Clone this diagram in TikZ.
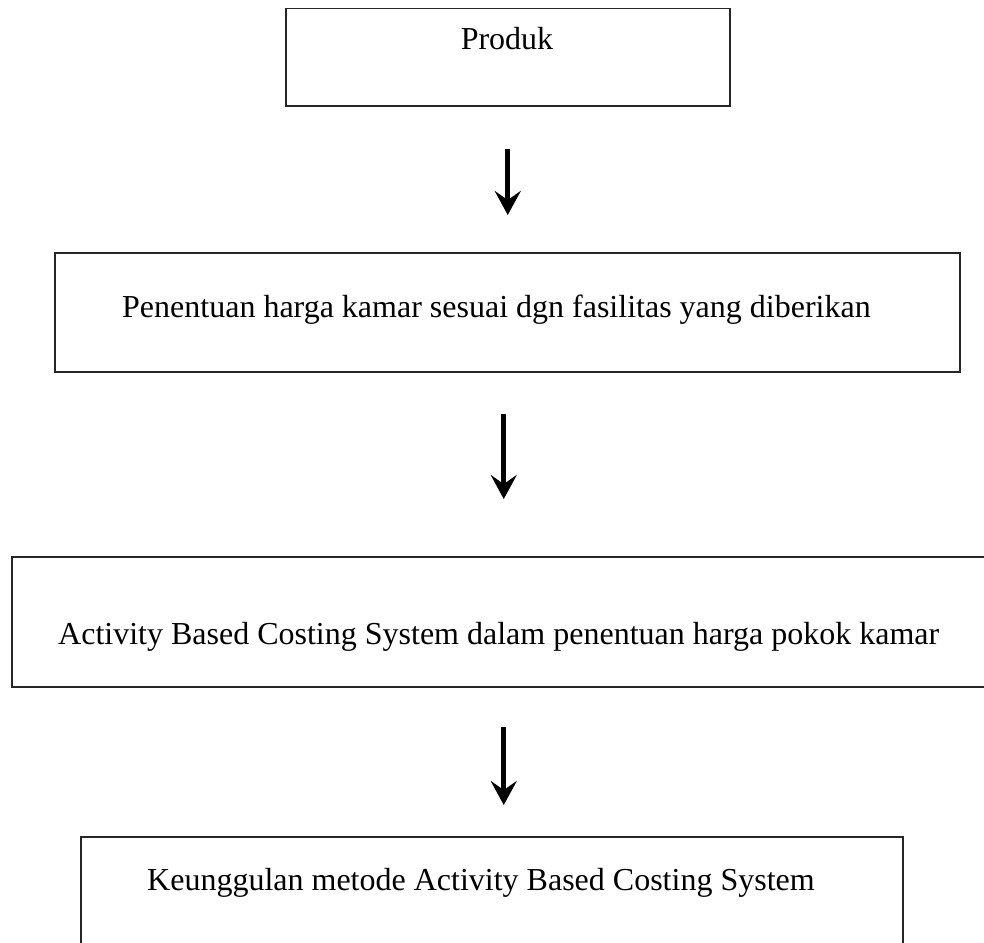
\documentclass[tikz,border=0pt]{standalone}
\usepackage{fontspec}
\setmainfont{Liberation Serif}
\usetikzlibrary{arrows.meta}
\begin{document}
\begin{tikzpicture}[x=1pt,y=-1pt,
  box/.style={draw=black!85,line width=1.5pt,rectangle,inner sep=0pt,anchor=north west},
  lbl/.style={anchor=base west,inner sep=0pt,font=\fontsize{32}{38}\selectfont},
  arr/.style={line width=5pt,-{Stealth[length=24pt,width=26pt,inset=9pt]}}]
\useasboundingbox (0,0) rectangle (984,942);
\clip (0,0) rectangle (984,942);
\node[box,minimum width=444pt,minimum height=97pt] (b1) at (285,8) {};
\node[box,minimum width=905pt,minimum height=119pt] (b2) at (54,252) {};
\node[box,minimum width=1000pt,minimum height=130pt] (b3) at (11,556) {};
\node[box,minimum width=822pt,minimum height=140pt] (b4) at (80,836) {};
\node[lbl,anchor=base] (t1) at (507,49) {Produk};
\node[lbl] (t2) at (122,317) {Penentuan harga kamar sesuai dgn fasilitas yang diberikan};
\node[lbl] (t3) at (58,644) {Activity Based Costing System dalam penentuan harga pokok kamar};
\node[lbl] (t4) at (147,890) {Keunggulan metode Activity Based Costing System};
\draw[arr,shorten <=42pt,shorten >=37pt] (b1.south) -- (b1.south |- b2.north);
\draw[arr,shorten <=41pt,shorten >=57pt] ([xshift=-3.5pt]b2.south) -- ([xshift=-3.5pt]b2.south |- b3.north);
\draw[arr,shorten <=39pt,shorten >=31pt] ([xshift=-3.5pt]b2.south |- b3.south) -- ([xshift=-3.5pt]b2.south |- b4.north);
\end{tikzpicture}
\end{document}
